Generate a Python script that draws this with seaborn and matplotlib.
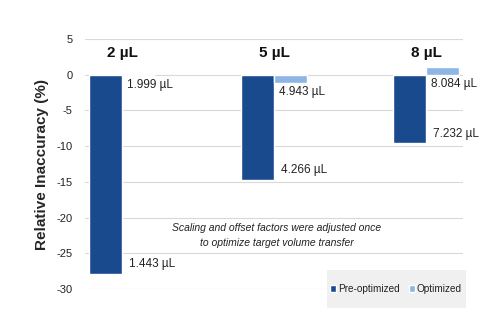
import matplotlib
matplotlib.use("Agg")
import matplotlib.pyplot as plt
import seaborn as sns
import pandas as pd
from matplotlib.patches import Patch, Rectangle

volumes = ["2 µL", "5 µL", "8 µL"]
pre_optimized = [-27.85, -14.68, -9.60]
optimized = [-0.05, -1.14, 1.05]
pre_labels = ["1.443 µL", "4.266 µL", "7.232 µL"]
opt_labels = ["1.999 µL", "4.943 µL", "8.084 µL"]
series = ["Pre-optimized", "Optimized"]
yticks = [5, 0, -5, -10, -15, -20, -25, -30]

dark = "#1A4A8E"
light = "#8DB6E6"

df = pd.DataFrame({
    "Volume": volumes * 2,
    "Series": [series[0]] * 3 + [series[1]] * 3,
    "Value": pre_optimized + optimized,
})

sns.set_style("white")
plt.rcParams["font.family"] = ["Liberation Sans", "DejaVu Sans"]

fig = plt.figure(figsize=(5, 3.33), dpi=100)
ax = fig.add_axes([0.17, 0.132, 0.756, 0.751])

sns.barplot(data=df, x="Volume", y="Value", hue="Series", order=volumes,
            hue_order=series, palette=[dark, light], width=0.434,
            ax=ax, legend=False, saturation=1)

ax.set_xlim(-0.243, 2.243)
ax.set_ylim(-30, 5)
ax.set_yticks(yticks)
ax.set_yticklabels([str(t) for t in yticks], fontsize=8, color="#222222")
ax.tick_params(axis="y", length=0, pad=9)
ax.set_xticks([])
ax.set_xlabel("")
ax.set_ylabel("Relative Inaccuracy (%)", fontsize=11, fontweight="bold", labelpad=5)
for s in ax.spines.values():
    s.set_visible(False)
for t in yticks:
    ax.axhline(t, color="#D9D9D9", lw=0.8, zorder=0)

for i, v in enumerate(volumes):
    ax.text(i, 3.1, v, ha="center", va="center", fontsize=11, fontweight="bold", color="#111111")
    ax.text(i + 0.045, pre_optimized[i] + 1.3, pre_labels[i], ha="left", va="center",
            fontsize=8.5, color="#222222")
    ax.text(i + 0.035, min(optimized[i], 0) - 1.35, opt_labels[i], ha="left", va="center",
            fontsize=8.5, color="#222222")

ax.text(1.02, -21.5, "Scaling and offset factors were adjusted once", ha="center",
        va="center", fontsize=7.5, style="italic", color="#222222")
ax.text(1.02, -23.6, "to optimize target volume transfer", ha="center",
        va="center", fontsize=7.5, style="italic", color="#222222")

# legend background box
fig.patches.append(Rectangle((327 / 500, 1 - 308 / 333), 139 / 500, 38 / 333,
                             transform=fig.transFigure, facecolor="#F0F0F0",
                             edgecolor="none", zorder=5))

handles = [Patch(facecolor=dark, label=series[0]), Patch(facecolor=light, label=series[1])]
leg = fig.legend(handles=handles, loc="center", bbox_to_anchor=(396 / 500, 1 - 289 / 333),
                 ncol=2, fontsize=7.2, frameon=False,
                 handlelength=0.6, handleheight=0.6, handletextpad=0.2, columnspacing=0.9,
                 borderpad=0, borderaxespad=0)
leg.set_zorder(6)
for t in leg.get_texts():
    t.set_color("#222222")

fig.savefig("out.png", dpi=100)
